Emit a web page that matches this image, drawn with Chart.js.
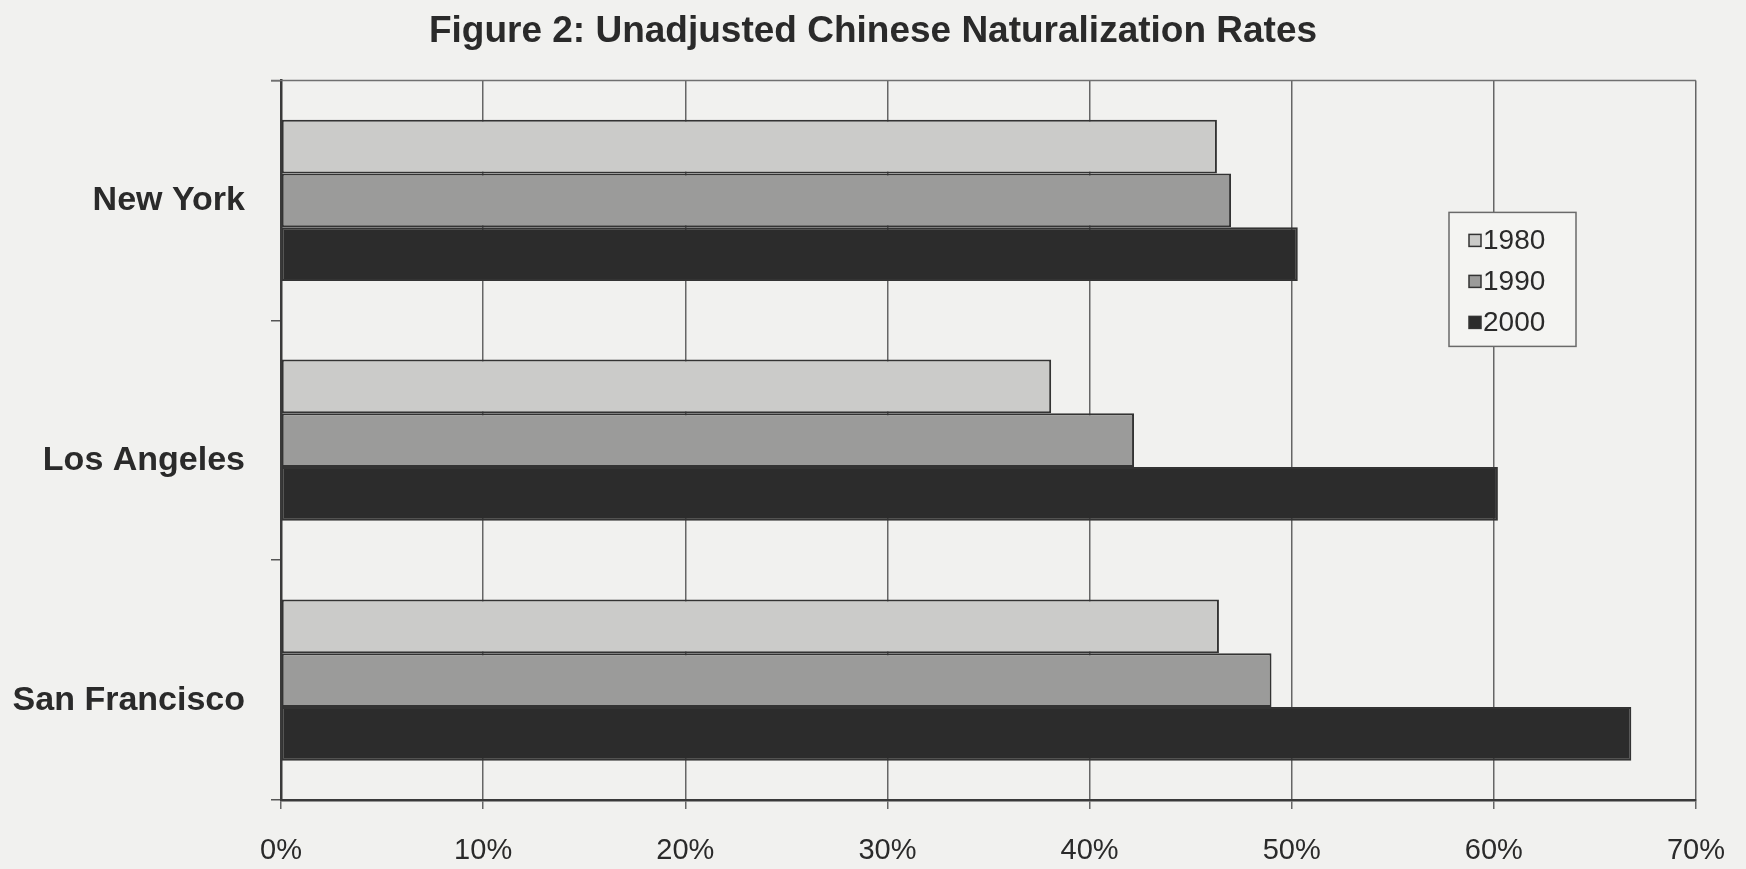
<!DOCTYPE html>
<html>
<head>
<meta charset="utf-8">
<title>Figure 2: Unadjusted Chinese Naturalization Rates</title>
<script src="https://cdn.jsdelivr.net/npm/chart.js@4/dist/chart.umd.min.js"></script>
<style>
    html, body { margin: 0; padding: 0; background: #f1f1ef; }
    #wrap { width: 1746px; height: 869px; }
</style>
</head>
<body>
<div id="wrap"><canvas id="chart" width="1746" height="869"></canvas></div>
<script>
// Values (percent)
const cities = ["New York", "Los Angeles", "San Francisco"];
const years = ["1980", "1990", "2000"];
const rates1980 = [46.3, 38.1, 46.4];
const rates1990 = [47.0, 42.2, 49.0];
const rates2000 = [50.3, 60.2, 66.8];
const xTicks = [0, 10, 20, 30, 40, 50, 60, 70];

const fills = ['#cbcbc9', '#9b9b9a', '#2c2c2c'];
const textColor = '#2a2a2a';
const fontFamily = '"Liberation Sans", Arial, sans-serif';

// Legend box drawn inside the plot, like the Excel original
const boxLegend = {
    id: 'boxLegend',
    afterDraw(chart) {
        const ctx = chart.ctx;
        const ca = chart.chartArea;
        const x = ca.right - 247, y = ca.top + 132, w = 127, h = 134;
        ctx.save();
        ctx.fillStyle = '#f4f4f2';
        ctx.strokeStyle = '#6a6a6a';
        ctx.lineWidth = 1.5;
        ctx.fillRect(x, y, w, h);
        ctx.strokeRect(x, y, w, h);
        ctx.font = '28px ' + fontFamily;
        ctx.textBaseline = 'middle';
        chart.data.datasets.forEach((ds, i) => {
            const cy = y + 28 + i * 41;
            ctx.fillStyle = ds.backgroundColor;
            ctx.fillRect(x + 20, cy - 6, 12, 12);
            ctx.strokeStyle = '#333';
            ctx.lineWidth = 1.5;
            ctx.strokeRect(x + 20, cy - 6, 12, 12);
            ctx.fillStyle = textColor;
            ctx.fillText(ds.label, x + 34, cy + 1);
        });
        ctx.restore();
    }
};

// Top border of the plot area
const plotFrame = {
    id: 'plotFrame',
    afterDatasetsDraw(chart) {
        const ctx = chart.ctx;
        const ca = chart.chartArea;
        ctx.save();
        ctx.strokeStyle = '#707070';
        ctx.lineWidth = 1.5;
        ctx.beginPath();
        ctx.moveTo(ca.left - 10, ca.top);
        ctx.lineTo(ca.right, ca.top);
        ctx.stroke();
        ctx.restore();
    }
};

window.onload = function () {
    const ctx = document.getElementById('chart').getContext('2d');
    const rows = [rates1980, rates1990, rates2000];

    new Chart(ctx, {
        type: 'bar',
        data: {
            labels: cities,
            datasets: years.map((yr, i) => ({
                label: yr,
                data: rows[i],
                backgroundColor: fills[i],
                borderColor: '#333333',
                borderWidth: 2,
                borderSkipped: false,
                barPercentage: 1.0,
                categoryPercentage: 0.672
            }))
        },
        options: {
            indexAxis: 'y',
            responsive: false,
            animation: false,
            layout: { padding: { left: 0, right: 0, top: 0, bottom: 2 } },
            plugins: {
                legend: { display: false },
                tooltip: { enabled: false },
                title: {
                    display: true,
                    text: 'Figure 2: Unadjusted Chinese Naturalization Rates',
                    color: textColor,
                    font: { family: fontFamily, size: 37, weight: 'bold' },
                    padding: { top: 10, bottom: 26 }
                }
            },
            scales: {
                x: {
                    min: 0,
                    max: 70,
                    afterBuildTicks: (scale) => {
                        scale.ticks = xTicks.map(v => ({ value: v }));
                    },
                    afterFit: (scale) => {
                        scale.height = 67;
                        scale.paddingRight = 50;
                    },
                    ticks: {
                        color: textColor,
                        font: { family: fontFamily, size: 29 },
                        padding: 25,
                        callback: (v) => v + '%'
                    },
                    grid: {
                        color: '#666666',
                        lineWidth: 1.5,
                        tickLength: 9
                    },
                    border: { color: '#3a3a3a', width: 2.5 }
                },
                y: {
                    afterFit: (scale) => { scale.width = 281; },
                    ticks: {
                        color: textColor,
                        font: { family: fontFamily, size: 34, weight: 'bold' },
                        padding: 26,
                        // the lower two names sit a little below their group centre in the original
                        callback: (v, i) => i === 0 ? cities[i] : ['', cities[i]]
                    },
                    grid: {
                        offset: true,
                        drawOnChartArea: false,
                        color: '#555555',
                        lineWidth: 1.5,
                        tickLength: 10
                    },
                    border: { color: '#3a3a3a', width: 2.5 }
                }
            }
        },
        plugins: [plotFrame, boxLegend]
    });
};
</script>
</body>
</html>
